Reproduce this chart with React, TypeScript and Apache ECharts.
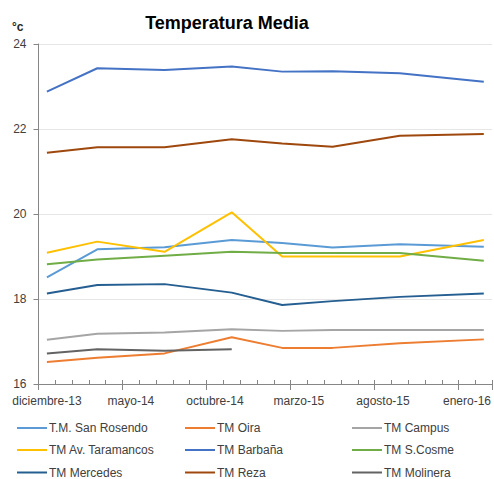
import React, { useEffect, useRef } from "react";
import * as echarts from "echarts";

const months = [
  "diciembre-13", "enero-14", "febrero-14", "marzo-14", "abril-14", "mayo-14",
  "junio-14", "julio-14", "agosto-14", "septiembre-14", "octubre-14", "noviembre-14",
  "diciembre-14", "enero-15", "febrero-15", "marzo-15", "abril-15", "mayo-15",
  "junio-15", "julio-15", "agosto-15", "septiembre-15", "octubre-15", "noviembre-15",
  "diciembre-15", "enero-16", "febrero-16",
];

const sampleMonths = [
  "diciembre-13", "marzo-14", "julio-14", "noviembre-14",
  "febrero-15", "mayo-15", "septiembre-15", "febrero-16",
];

const sanRosendo = [18.51, 19.17, 19.22, 19.39, 19.32, 19.21, 19.29, 19.23];
const oira = [16.52, 16.62, 16.72, 17.1, 16.85, 16.85, 16.96, 17.05];
const campus = [17.04, 17.18, 17.21, 17.29, 17.25, 17.27, 17.27, 17.27];
const taramancos = [19.09, 19.35, 19.11, 20.04, 19.0, 19.0, 19.0, 19.39];
const barbana = [22.88, 23.43, 23.39, 23.47, 23.35, 23.36, 23.31, 23.11];
const sCosme = [18.82, 18.93, 19.02, 19.11, 19.08, 19.08, 19.08, 18.9];
const mercedes = [18.13, 18.33, 18.35, 18.15, 17.86, 17.95, 18.05, 18.13];
const reza = [21.44, 21.57, 21.57, 21.76, 21.66, 21.58, 21.84, 21.88];
const molinera = [16.72, 16.82, 16.78, 16.82, null, null, null, null];

const seriesNames = [
  "T.M. San Rosendo", "TM Oira", "TM Campus",
  "TM Av. Taramancos", "TM Barbaña", "TM S.Cosme",
  "TM Mercedes", "TM Reza", "TM Molinera",
];
const seriesValues = [sanRosendo, oira, campus, taramancos, barbana, sCosme, mercedes, reza, molinera];
const seriesColors = [
  "#5B9BD5", "#ED7D31", "#A5A5A5",
  "#FFC000", "#4472C4", "#70AD47",
  "#255E91", "#9E480E", "#636363",
];

const yTicks = [16, 18, 20, 22, 24];

const FONT = "'Liberation Sans', Arial, sans-serif";
const TXT = "#404040";

const legendLefts = [17, 185, 352];
const legendRowCenters = [428, 450, 472.5];

export default function App() {
  const ref = useRef<HTMLDivElement>(null);
  useEffect(() => {
    if (!ref.current) return;
    const chart = echarts.init(ref.current, undefined, { renderer: "svg" });
    const legends = seriesNames.map((name, i) => ({
      orient: "horizontal",
      left: legendLefts[i % 3],
      top: legendRowCenters[Math.floor(i / 3)] - 7,
      icon: "rect",
      itemWidth: 30,
      itemHeight: 2,
      padding: 0,
      data: [name],
      textStyle: { color: TXT, fontSize: 12, fontFamily: FONT, lineHeight: 14, padding: [0, 0, 0, -3] },
      selectedMode: false,
    }));
    chart.setOption({
      animation: false,
      backgroundColor: "#fff",
      textStyle: { fontFamily: FONT },
      graphic: [
        {
          type: "text",
          x: 227,
          y: 23,
          style: {
            text: "Temperatura Media",
            align: "center",
            verticalAlign: "middle",
            font: `bold 18px ${FONT}`,
            fill: "#000",
          },
        },
        {
          type: "text",
          x: 12,
          y: 27,
          style: {
            text: "°c",
            align: "left",
            verticalAlign: "middle",
            font: `bold 12px ${FONT}`,
            fill: "#262626",
          },
        },
      ],
      legend: legends,
      grid: { left: 38.5, right: 1, top: 44, bottom: 95, containLabel: false },
      xAxis: [
        {
          type: "category",
          position: "bottom",
          data: months,
          boundaryGap: true,
          axisLine: { show: true, lineStyle: { color: "#868686", width: 1 } },
          axisTick: { show: true, interval: 4, length: 6, lineStyle: { color: "#868686" } },
          axisLabel: {
            interval: 4,
            margin: 11,
            color: TXT,
            fontSize: 12,
            fontFamily: FONT,
          },
          splitLine: { show: false },
        },
        {
          type: "category",
          position: "bottom",
          data: months,
          boundaryGap: true,
          axisLine: { show: false },
          axisTick: { show: true, interval: 0, inside: true, length: 4, lineStyle: { color: "#868686" } },
          axisLabel: { show: false },
          splitLine: { show: false },
        },
      ],
      yAxis: {
        type: "value",
        min: yTicks[0],
        max: yTicks[yTicks.length - 1],
        interval: 2,
        axisLine: { show: true, lineStyle: { color: "#868686", width: 1 } },
        axisTick: { show: true, length: 5, lineStyle: { color: "#868686" } },
        axisLabel: { margin: 12, color: TXT, fontSize: 12, fontFamily: FONT },
        splitLine: { show: true, lineStyle: { color: "#E6E6E6", width: 1 } },
      },
      series: seriesNames.map((name, i) => ({
        name,
        type: "line",
        xAxisIndex: 0,
        symbol: "none",
        color: seriesColors[i],
        lineStyle: { width: 2, color: seriesColors[i] },
        data: sampleMonths
          .map((m, j) => [m, seriesValues[i][j]])
          .filter((d) => d[1] !== null),
      })),
    });
    return () => chart.dispose();
  }, []);
  return (
    <div
      ref={ref}
      style={{ position: "fixed", left: 0, top: 0, width: 494, height: 479, background: "#fff" }}
    />
  );
}
